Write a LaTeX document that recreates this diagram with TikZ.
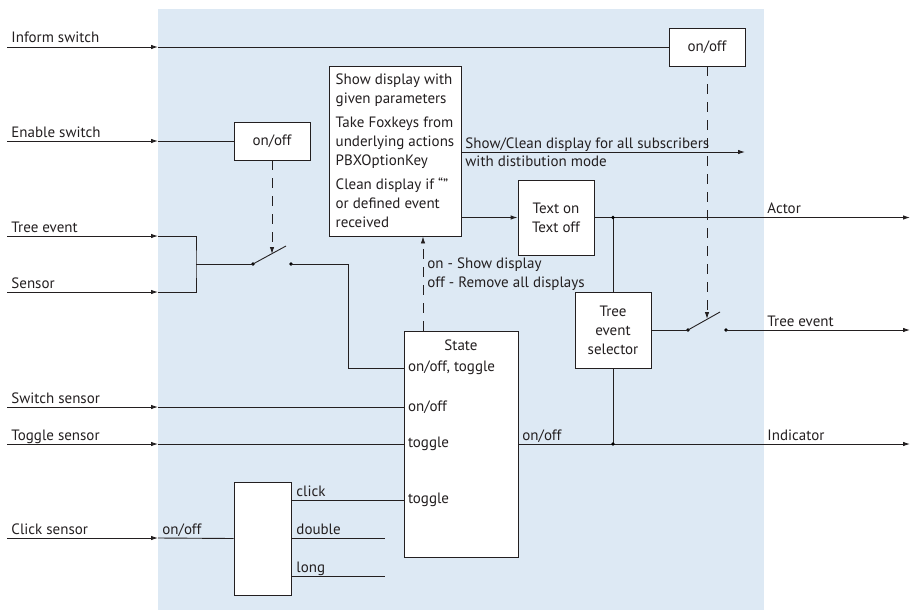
\documentclass[tikz,border=0pt]{standalone}
\usepackage{fontspec}
\setmainfont{PT Sans}
\usepackage{xcolor}
\usetikzlibrary{arrows.meta,positioning,calc}
\definecolor{panel}{RGB}{221,233,244}
\definecolor{ink}{RGB}{35,31,32}

\begin{document}
\begin{tikzpicture}[x=1pt,y=-1pt,line width=0.9pt,draw=ink,
  every node/.style={font=\fontsize{15}{19}\selectfont,text=ink},
  box/.style={draw=ink,fill=white,inner sep=0pt},
  sig/.style={-{Latex[length=7pt,width=4.5pt]}},
  ctrl/.style={dash pattern=on 10pt off 8pt,-{Latex[length=7pt,width=4.5pt]}},
  lbl/.style={anchor=base west,inner sep=0pt},
  port/.style={anchor=west,inner sep=0pt}]
  \useasboundingbox (0,0) rectangle (912,610);
  \fill[panel] (158,9) rectangle (764,610);

  % inputs on the left
  \foreach \nm/\y/\lab in {inform/47/Inform switch,enable/141/Enable switch,
      tree/236/Tree event,sensor/292/Sensor,swsens/407/Switch sensor,
      tgsens/444/Toggle sensor,click/538/Click sensor} {
    \coordinate (in-\nm) at (7,\y);
    \coordinate (b-\nm) at (158,\y);
    \draw[sig] (in-\nm) -- (b-\nm);
    \node[lbl] (l-\nm) at (11,\y-4) {\lab};
  }

  % blocks
  \node[box,minimum width=76pt,minimum height=38pt] (informsw) at (707,47) {on/off};
  \node[box,minimum width=76pt,minimum height=38pt] (enablesw) at (272,141) {on/off};
  \node[box,minimum width=132pt,minimum height=170pt,align=left] (display) at (395,151)
    {Show display with\\given parameters\\[5pt]Take Foxkeys from\\underlying actions\\
     PBXOptionKey\\[5pt]Clean display if “”\\or defined event\\received};
  \node[box,minimum width=76pt,minimum height=75pt,align=center] (texton) at (556,217.5)
    {Text on\\Text off};
  \node[box,minimum width=76pt,minimum height=76pt,align=center] (selector) at (613,330)
    {Tree\\event\\selector};
  \node[box,minimum width=114pt,minimum height=226pt] (state) at (461,444) {};
  \node[box,minimum width=57pt,minimum height=113pt] (clickbox) at (262.5,538.5) {};

  % state inputs
  \node[anchor=base,inner sep=0pt] (st-title) at (461,350) {State};
  \coordinate (st-oo) at (state.west |- 0,368);
  \coordinate (st-tg2) at (state.west |- 0,500);
  \node[port] (p-oot) at ([xshift=4pt]st-oo) {on/off, toggle};
  \node[port] (p-oo) at ([xshift=4pt]state.west |- b-swsens) {on/off};
  \node[port] (p-tg) at ([xshift=4pt]state.west |- b-tgsens) {toggle};
  \node[port] (p-tg2) at ([xshift=4pt]st-tg2) {toggle};

  % switch behind the enable block
  \coordinate (mrg) at (196,264);
  \coordinate (sw1a) at (253,264);
  \coordinate (sw1b) at (291,264);
  \coordinate (sw1end) at (286,246);
  \coordinate (sw1arm) at (272,254);
  \fill (sw1a) circle (1.9pt) (sw1b) circle (1.9pt);
  \draw (sw1a) -- (sw1end);
  \draw (b-tree) -| (mrg) |- (b-sensor);
  \draw (mrg) -- (sw1a);
  \draw (sw1b) -- ++(57,0) |- (st-oo);
  \draw[ctrl] (enablesw.south) -- (sw1arm);
  \draw (b-enable) -- (enablesw.west);

  % direct sensor lines
  \draw (b-swsens) -- (state.west |- b-swsens);
  \draw (b-tgsens) -- (state.west |- b-tgsens);

  % click evaluation
  \draw (b-click) -- (clickbox.west);
  \node[lbl] (l-clk) at (162,534) {on/off};
  \coordinate (dbl-end) at (385,538);
  \coordinate (lng-end) at (385,576);
  \draw (clickbox.east |- st-tg2) -- (st-tg2);
  \draw (clickbox.east |- dbl-end) -- (dbl-end);
  \draw (clickbox.east |- lng-end) -- (lng-end);
  \node[lbl] at (296,496) {click};
  \node[lbl] at (296,534) {double};
  \node[lbl] at (296,572) {long};

  % display control
  \draw[ctrl] (state.north -| 423,0) -- (display.south -| 423,0);
  \node[lbl] at (427,268) {on - Show display};
  \node[lbl] at (427,287) {off - Remove all displays};
  \coordinate (bcast) at (745,152);
  \draw[sig] (display.east |- bcast) -- (bcast);
  \node[lbl] at (465,148) {Show/Clean display for all subscribers};
  \node[lbl] at (465,166) {with distibution mode};
  \draw[sig] (display.east |- texton) -- (texton.west);

  % outputs
  \coordinate (o-actor) at (910,217.5);
  \coordinate (o-tree) at (910,330);
  \coordinate (o-ind) at (910,444);
  \coordinate (jA) at (613,217.5);
  \coordinate (jI) at (613,444);
  \draw[sig] (texton.east) -- (o-actor);
  \draw (jA) -- (selector.north);
  \draw (selector.south) -- (jI);
  \draw[sig] (state.east) -- (o-ind);
  \fill (jA) circle (1.9pt) (jI) circle (1.9pt);
  \node[lbl] at (522,440) {on/off};
  \node[lbl] at (767,213) {Actor};
  \node[lbl] at (767,326) {Tree event};
  \node[lbl] at (767,440) {Indicator};

  % switch behind the inform block
  \coordinate (sw2a) at (688,330);
  \coordinate (sw2b) at (726,330);
  \coordinate (sw2end) at (720,312);
  \coordinate (sw2arm) at (707,319);
  \fill (sw2a) circle (1.9pt) (sw2b) circle (1.9pt);
  \draw (sw2a) -- (sw2end);
  \draw (selector.east) -- (sw2a);
  \draw[sig] (sw2b) -- (o-tree);
  \draw (b-inform) -- (informsw.west);
  \draw[ctrl] (informsw.south) -- (sw2arm);
\end{tikzpicture}
\end{document}
